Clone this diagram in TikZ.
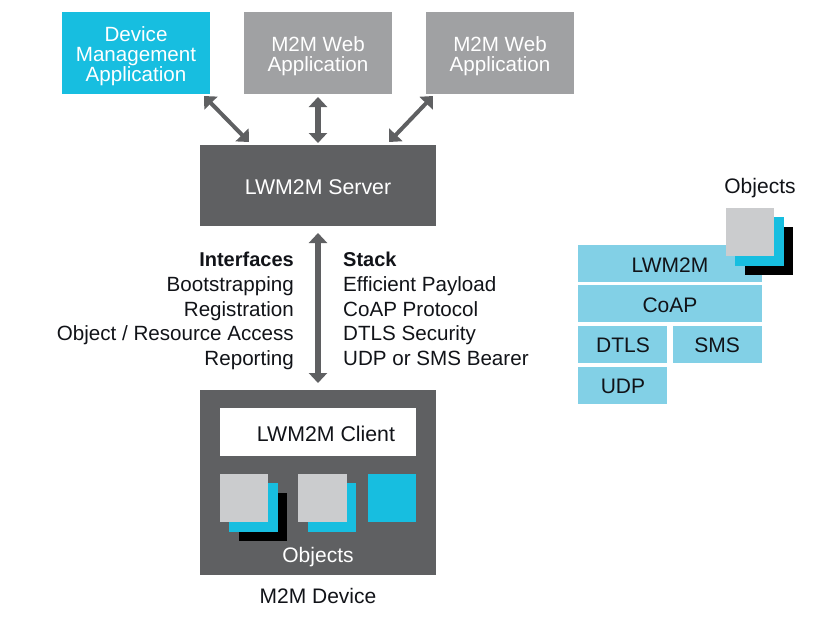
\documentclass[tikz,border=0pt]{standalone}
\usepackage{fontspec}
\setmainfont{Liberation Sans}
\usetikzlibrary{arrows.meta}
\definecolor{cyanbox}{HTML}{17BEE0}
\definecolor{lightblue}{HTML}{82D0E6}
\definecolor{webgray}{HTML}{A0A1A3}
\definecolor{darkgray}{HTML}{5F6062}
\definecolor{objgray}{HTML}{CBCCCE}
\definecolor{inktext}{HTML}{111318}
\tikzset{
  x=1pt,y=-1pt,
  box/.style={anchor=north west,inner sep=0pt,outer sep=0pt,minimum width=#1},
  lbl/.style={font=\fontsize{21}{21}\selectfont,text=inktext,inner sep=0pt},
  apptext/.style={font=\fontsize{20.6}{20}\selectfont,text=white,align=center,inner sep=0pt},
  conn/.style={draw=darkgray,line width=5.5pt,{Triangle[length=10pt,width=18pt]}-{Triangle[length=10pt,width=18pt]}},
  diagconn/.style={conn,line width=4pt},
  listtext/.style={font=\fontsize{20.6}{24.7}\selectfont,text=inktext,inner sep=0pt},
}
\begin{document}
\begin{tikzpicture}
\useasboundingbox (0,0) rectangle (839,625);
% applications
\node[fill=cyanbox,box=148,minimum height=82] (dm) at (62,12) {};
\node[fill=webgray,box=148,minimum height=82] (webone) at (244,12) {};
\node[fill=webgray,box=148,minimum height=82] (webtwo) at (426,12) {};
\node[apptext] (dmt) at (136,56) {Device\\Management\\Application};
\node[apptext] (webonet) at (318,56) {M2M Web\\Application};
\node[apptext] (webtwot) at (500,56) {M2M Web\\Application};
% server
\node[fill=darkgray,box=236,minimum height=81] (server) at (200,145) {};
\node[font=\fontsize{21.3}{21}\selectfont,text=white,inner sep=0pt] (servert) at (318,187) {LWM2M Server};
% device
\node[fill=darkgray,box=236,minimum height=185] (device) at (200,390) {};
\node[fill=white,box=196,minimum height=48] (client) at (220,408) {};
\node[font=\fontsize{21.3}{21}\selectfont,text=inktext,inner sep=0pt] (clientt) at (326,434) {LWM2M Client};
\fill[black] (239,493) rectangle (287,541);
\fill[cyanbox] (229,483) rectangle (278,532);
\fill[objgray] (220,474) rectangle (268,522);
\fill[cyanbox] (308,483) rectangle (356,532);
\fill[objgray] (298,474) rectangle (347,522);
\fill[cyanbox] (368,474) rectangle (416,522);
\node[font=\fontsize{21}{21}\selectfont,text=white,inner sep=0pt] (objdev) at (318,557) {Objects};
\node[lbl] (devlabel) at (318,596) {M2M Device};
% connectors
\coordinate (dmend) at (204,96);
\coordinate (srvleft) at (249,142);
\coordinate (webend) at (433,96);
\coordinate (srvright) at (389,142);
\draw[diagconn] (dmend) -- (srvleft);
\draw[diagconn] (webend) -- (srvright);
\draw[conn,shorten <=3pt,shorten >=2pt] (webone.south) -- (server.north);
\draw[conn,shorten <=7pt,shorten >=7pt] (server.south) -- (device.north);
% lists
\node[listtext,anchor=north east,align=right] (ifaces) at (294,252) {\fontsize{20}{24.7}\selectfont\textbf{Interfaces}\\Bootstrapping\\Registration\\Object / Resource Access\\Reporting};
\node[listtext,anchor=north west,align=left] (stack) at (343,252) {\fontsize{20}{24.7}\selectfont\textbf{Stack}\\Efficient Payload\\CoAP Protocol\\DTLS Security\\UDP or SMS Bearer};
% right stack
\node[fill=lightblue,box=184,minimum height=37] (lw) at (578,245) {};
\node[lbl] (lwt) at (670,265) {LWM2M};
\node[fill=lightblue,box=184,minimum height=37] (coap) at (578,285) {};
\node[lbl] (coapt) at (670,305) {CoAP};
\node[fill=lightblue,box=89,minimum height=37] (dtls) at (578,326) {};
\node[lbl] (dtlst) at (623,345) {DTLS};
\node[fill=lightblue,box=89,minimum height=37] (sms) at (673,326) {};
\node[lbl] (smst) at (717,345) {SMS};
\node[fill=lightblue,box=89,minimum height=37] (udp) at (578,367) {};
\node[lbl] (udpt) at (623,386) {UDP};
\fill[black] (745,227) rectangle (793,275);
\fill[cyanbox] (735,217) rectangle (784,266);
\fill[objgray] (726,208) rectangle (774,256);
\node[lbl] (objright) at (760,188) {Objects};
\end{tikzpicture}
\end{document}
